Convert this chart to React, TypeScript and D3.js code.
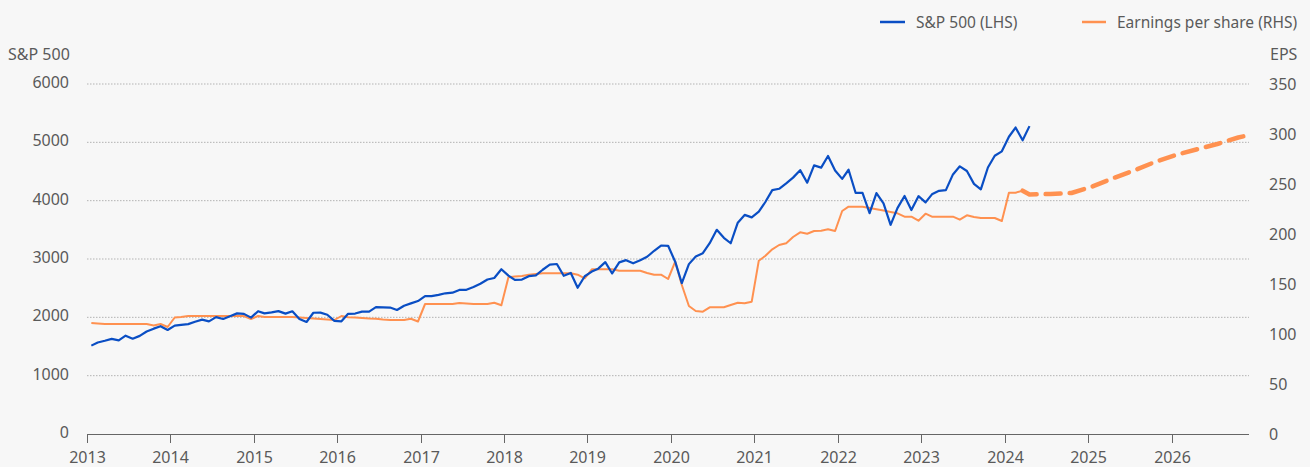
import React from 'react';
import { scaleLinear, scaleTime, line } from 'd3';

/**
 * data (monthly, both series start Feb 2013)
 */
const FIRST_YEAR = 2013;
const FIRST_MONTH = 1; // 0-based, Feb

// S&P 500 month-end level, Feb 2013 - May 2024
const spxValues = [
  1515, 1569, 1598, 1631, 1606, 1686, 1633, 1682, 1757, 1806, 1848,
  1783, 1859, 1872, 1884, 1924, 1960, 1931, 2003, 1972, 2018, 2068, 2059,
  1995, 2105, 2068, 2086, 2107, 2063, 2104, 1972, 1920, 2079, 2080, 2044,
  1940, 1932, 2060, 2065, 2097, 2099, 2174, 2171, 2168, 2126, 2199, 2239,
  2279, 2364, 2363, 2384, 2412, 2423, 2470, 2472, 2519, 2575, 2648, 2674,
  2824, 2714, 2641, 2648, 2705, 2718, 2816, 2902, 2914, 2712, 2760, 2507,
  2704, 2784, 2834, 2946, 2752, 2942, 2980, 2926, 2977, 3038, 3141, 3231,
  3226, 2954, 2585, 2912, 3044, 3100, 3271, 3500, 3363, 3270, 3622, 3756,
  3714, 3811, 3973, 4181, 4204, 4298, 4395, 4523, 4308, 4605, 4567, 4766,
  4516, 4374, 4530, 4132, 4132, 3785, 4130, 3955, 3586, 3872, 4080, 3840,
  4077, 3970, 4109, 4169, 4180, 4450, 4589, 4508, 4288, 4194, 4568, 4770,
  4846, 5096, 5254, 5036, 5278,
];

// earnings per share, Feb 2013 - Apr 2024
const epsValues = [
  111, 110.5, 110, 110, 110, 110, 110, 110, 110, 108.5, 110,
  107, 116.5, 117, 118, 118, 118, 118, 118, 118, 118, 118, 118,
  115, 118, 117, 117, 117, 117, 117, 116.5, 116, 115.5, 115, 114.5,
  114, 118, 116.7, 116.5, 116, 115.5, 115.3, 114.5, 114, 114, 114, 115.3,
  112.5, 130, 130, 130, 130, 130, 131, 130.5, 130, 130, 130, 131.3,
  128.7, 156.7, 157.5, 158, 159.3, 160, 160.7, 160.7, 160.7, 160.7, 160.7, 159.3,
  155.7, 164.7, 164.7, 164.7, 164.7, 163.3, 163.3, 163.3, 163.3, 161, 159.3, 159.3,
  155, 172.3, 149, 128, 123, 122.3, 126.7, 126.7, 126.7, 129, 131.3, 130.7,
  132.3, 173.3, 178, 184.7, 189, 190.7, 197, 201.7, 200.3, 203, 203.3, 204.7,
  203, 223, 227.3, 227.3, 227.3, 226, 224.7, 223.5, 222, 220.7, 217.3, 217.3,
  213.3, 220.3, 217.3, 217.3, 217.3, 217.3, 214.3, 218.7, 217, 216, 216, 216,
  213, 241.3, 241.3, 243.3,
];

// EPS forecast (dashed): months counted from Jan 2013
const epsForecastMonths = [135, 136, 139, 142, 145, 148, 151, 154, 157, 160, 163, 166, 167];
const epsForecastValues = [243.3, 239.5, 240, 241, 247.5, 255.7, 263.5, 272, 279, 284.5, 290, 296.5, 298];

// axes
const leftTicks = [0, 1000, 2000, 3000, 4000, 5000, 6000];
const rightTicks = [0, 50, 100, 150, 200, 250, 300, 350];
const yearTicks = [2013, 2014, 2015, 2016, 2017, 2018, 2019, 2020, 2021, 2022, 2023, 2024, 2025, 2026];

/**
 * styling
 */
const W = 1310;
const H = 467;
const BLUE = '#0a4ec4';
const ORANGE = '#ff9150';
const TEXT = '#5a5a5a';
const FONT = '"Noto Sans", "Open Sans", sans-serif';
const FS = 16;

// the source draws each monthly point a little before the month starts
const monthDate = (m: number) => new Date(FIRST_YEAR, m, 1 - 12);

export default function App() {
  // scales
  const x = scaleTime()
    .domain([new Date(2013, 0, 1), new Date(2026, 11, 6)])
    .range([87, 1249]);
  const yLeft = scaleLinear().domain([0, 6000]).range([434, 84]);
  const yRight = scaleLinear().domain([0, 350]).range([434, 84]);

  // paths
  const { spxPath, epsPath, forecastPath } = React.useMemo(() => {
    const spxLine = line<number>()
      .x((_, i) => x(monthDate(FIRST_MONTH + i)))
      .y(d => yLeft(d));
    const epsLine = line<number>()
      .x((_, i) => x(monthDate(FIRST_MONTH + i)))
      .y(d => yRight(d));
    const fcLine = line<number>()
      .x((_, i) => x(monthDate(epsForecastMonths[i])))
      .y(d => yRight(d));
    return {
      spxPath: spxLine(spxValues),
      epsPath: epsLine(epsValues),
      forecastPath: fcLine(epsForecastValues),
    };
  }, []);

  const [x0, x1] = x.range();

  return (
    <div style={{ position: 'fixed', left: 0, top: 0, width: W, height: H, background: '#f7f7f7' }}>
      <svg width={ W } height={ H } style={{ display: 'block', fontFamily: FONT }}>
        <rect width={ W } height={ H } fill="#f7f7f7" />

        {/* gridlines */}
        {
          leftTicks.filter(t => t > 0).map(t =>
            <line key={ t } x1={ x0 } x2={ x1 } y1={ yLeft(t) } y2={ yLeft(t) }
              stroke="#b3b3b3" strokeWidth={ 1 } strokeDasharray="1.5,1.5" />
          )
        }

        {/* left axis */}
        <text x={ 8 } y={ 54 } fontSize={ FS } fill={ TEXT } dominantBaseline="central">S&amp;P 500</text>
        {
          leftTicks.map(t =>
            <text key={ t } x={ 69 } y={ yLeft(t) - 2 } fontSize={ FS } fill={ TEXT }
              textAnchor="end" dominantBaseline="central">{ t }</text>
          )
        }

        {/* right axis */}
        <text x={ 1270 } y={ 54 } fontSize={ FS } fill={ TEXT } dominantBaseline="central">EPS</text>
        {
          rightTicks.map(t =>
            <text key={ t } x={ 1269 } y={ yRight(t) } fontSize={ FS } fill={ TEXT }
              dominantBaseline="central">{ t }</text>
          )
        }

        {/* x axis */}
        <line x1={ x0 } x2={ x1 } y1={ 434.5 } y2={ 434.5 } stroke="#666" strokeWidth={ 1 } />
        {
          yearTicks.map(yr => {
            const px = Math.round(x(new Date(yr, 0, 1))) + 0.5;
            return (
              <g key={ yr }>
                <line x1={ px } x2={ px } y1={ 434 } y2={ 443 } stroke="#666" strokeWidth={ 1 } />
                <text x={ px } y={ 457 } fontSize={ FS } fill={ TEXT }
                  textAnchor="middle" dominantBaseline="central">{ yr }</text>
              </g>
            );
          })
        }

        {/* series */}
        <path d={ forecastPath || '' } fill="none" stroke={ ORANGE } strokeWidth={ 4.5 }
          strokeDasharray="15,9" strokeLinecap="round" strokeLinejoin="round" />
        <path d={ epsPath || '' } fill="none" stroke={ ORANGE } strokeWidth={ 2 } strokeLinejoin="round" />
        <path d={ spxPath || '' } fill="none" stroke={ BLUE } strokeWidth={ 2.2 } strokeLinejoin="round" />

        {/* legend */}
        <line x1={ 880 } x2={ 905 } y1={ 22 } y2={ 22 } stroke={ BLUE } strokeWidth={ 2.5 } />
        <text x={ 916 } y={ 22 } fontSize={ 15.5 } fill={ TEXT } dominantBaseline="central">S&amp;P 500 (LHS)</text>
        <line x1={ 1082 } x2={ 1106 } y1={ 22 } y2={ 22 } stroke={ ORANGE } strokeWidth={ 2.5 } />
        <text x={ 1117 } y={ 22 } fontSize={ 15.5 } fill={ TEXT } dominantBaseline="central">Earnings per share (RHS)</text>
      </svg>
    </div>
  );
}
